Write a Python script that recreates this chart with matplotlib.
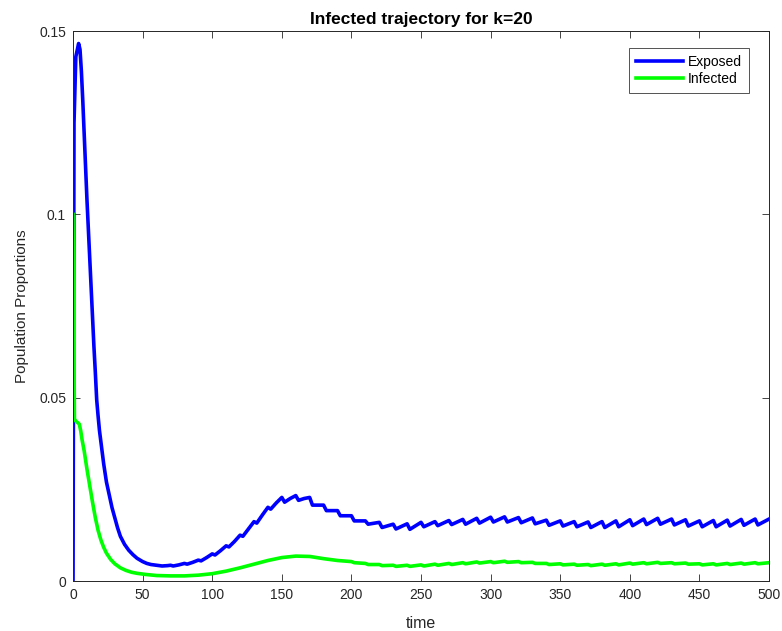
import matplotlib
matplotlib.use("Agg")
import matplotlib.pyplot as plt

# ---------- Config ----------
OUT_PNG = "out.png"
FONT = ["Liberation Sans Narrow", "Liberation Sans", "DejaVu Sans"]
BLUE = (0, 0, 1)
GREEN = (0, 1, 0)
# ----------------------------

TITLE = "Infected trajectory for k=20"
X_LABEL = "time"
Y_LABEL = "Population Proportions"
LEGEND_LABELS = ["Exposed", "Infected"]

X_TICKS = [0, 50, 100, 150, 200, 250, 300, 350, 400, 450, 500]
Y_TICKS = [0, 0.05, 0.1, 0.15]
Y_TICK_LABELS = ["0", "0.05", "0.1", "0.15"]

# exposed (blue), vertices
t_exposed = [0, 0.7, 2, 4, 5, 6, 7, 8, 9, 10, 11, 12, 13, 14, 15, 16, 17, 18, 19, 20,
             22, 24, 26, 28, 30, 32, 34, 37, 40, 43, 46, 50, 53, 56, 60, 64, 68, 70,
             72, 76, 80, 82, 86, 90, 92, 96, 100, 102, 106, 110, 112, 116, 120, 122,
             126, 130, 132, 136, 140, 142, 146, 150, 152, 156, 160, 162, 166, 170,
             172, 180, 182, 190, 192, 200, 202, 210, 212, 220, 222,
             230, 232, 240, 242, 250, 252, 260, 262, 270, 272, 280, 282, 290, 292,
             300, 302, 310, 312, 320, 322, 330, 332, 340, 342, 350, 352, 360, 362,
             370, 372, 380, 382, 390, 392, 400, 402, 410, 412, 420, 422, 430, 432,
             440, 442, 450, 452, 460, 462, 470, 472, 480, 482, 490, 492, 500]
exposed = [0, 0.125, 0.143, 0.1466, 0.145, 0.139, 0.131, 0.122, 0.113, 0.104, 0.096,
           0.088, 0.080, 0.072, 0.064, 0.057, 0.0494, 0.045, 0.041, 0.038,
           0.032, 0.027, 0.0235, 0.0200, 0.0172, 0.0145, 0.0122, 0.0100, 0.0084,
           0.0072, 0.0062, 0.0053, 0.0048, 0.0045, 0.0043, 0.0041, 0.0042, 0.0043,
           0.0041, 0.0044, 0.0048, 0.0046, 0.0051, 0.0057, 0.0055, 0.0064, 0.0074,
           0.0071, 0.0083, 0.0096, 0.0093, 0.0108, 0.0125, 0.0122,
           0.0142, 0.0162, 0.0158, 0.0180, 0.0201, 0.0196, 0.0213, 0.0228, 0.0215,
           0.0225, 0.0233, 0.0220, 0.0225, 0.0228,
           0.0207, 0.0207, 0.0192, 0.0192, 0.0178, 0.0178, 0.0164, 0.0164, 0.0155,
           0.0160, 0.0146,
           0.0155, 0.0142, 0.0156, 0.0141, 0.0160, 0.0148, 0.0162, 0.0151, 0.0165,
           0.0154, 0.0168, 0.0155, 0.0171, 0.0158,
           0.0174, 0.0161, 0.0175, 0.0161, 0.0173, 0.0159, 0.0172, 0.0156, 0.0166,
           0.0152, 0.0164, 0.0150, 0.0162, 0.0148,
           0.0161, 0.0146, 0.0162, 0.0146, 0.0164, 0.0148, 0.0167, 0.0151, 0.0169,
           0.0154, 0.0171, 0.0155, 0.0169, 0.0153,
           0.0167, 0.0150, 0.0164, 0.0148, 0.0165, 0.0148, 0.0166, 0.0150, 0.0168,
           0.0152, 0.0169, 0.0153, 0.0169]

# infected (green)
t_infected = [0, 1, 2, 3, 4.5, 5.5, 6.5, 8, 9, 10, 12, 14, 16, 18, 20, 22, 24, 27, 30,
              34, 38, 42, 46, 52, 60, 70, 80, 90, 100, 110, 120, 130, 140, 150, 160,
              170, 180, 190, 200, 202, 210, 212, 220, 222, 230, 232, 240, 242, 250,
              252, 260, 262, 270, 272, 280, 282, 290, 292, 300, 302, 310, 312, 320,
              322, 330, 332, 340, 342, 350, 352, 360, 362, 370, 372, 380, 382, 390,
              392, 400, 402, 410, 412, 420, 422, 430, 432, 440, 442, 450, 452, 460,
              462, 470, 472, 480, 482, 490, 492, 500]
infected = [0.1, 0.0442, 0.0436, 0.0433, 0.0428, 0.0410, 0.0385, 0.0355, 0.0330,
            0.0305, 0.0260, 0.0215, 0.0173, 0.0138, 0.0112, 0.0092, 0.0076, 0.0059,
            0.0047, 0.0036, 0.0029, 0.0024, 0.0021, 0.0018, 0.0015, 0.0014, 0.0014,
            0.0016, 0.0020, 0.0027, 0.0036, 0.0046, 0.0056, 0.0064, 0.0068, 0.0067,
            0.0061, 0.0056, 0.0053, 0.0050, 0.0048, 0.0045, 0.0045, 0.0042, 0.0043,
            0.0040, 0.0043, 0.0040, 0.0044, 0.0041, 0.0046, 0.0043, 0.0048, 0.0045,
            0.0050, 0.0047, 0.0052, 0.0049, 0.0053, 0.0050, 0.0054, 0.0051, 0.0053,
            0.0050, 0.0051, 0.0048, 0.0048, 0.0045, 0.0047, 0.0044, 0.0046, 0.0043,
            0.0045, 0.0042, 0.0046, 0.0043, 0.0047, 0.0044, 0.0049, 0.0046, 0.0050,
            0.0047, 0.0051, 0.0048, 0.0050, 0.0047, 0.0049, 0.0046, 0.0047, 0.0044,
            0.0047, 0.0044, 0.0048, 0.0045, 0.0049, 0.0046, 0.0050, 0.0047, 0.0050]


def main():
    plt.rcParams["font.family"] = FONT
    fig = plt.figure(figsize=(7.82, 6.31), dpi=100)
    ax = fig.add_axes([0.0934, 0.0792, 0.8900, 0.8716])

    ax.plot(t_exposed, exposed, color=BLUE, lw=2.6, label=LEGEND_LABELS[0])
    ax.plot(t_infected, infected, color=GREEN, lw=2.6, label=LEGEND_LABELS[1])

    ax.set_xlim(0, 500)
    ax.set_ylim(0, 0.15)
    ax.set_xticks(X_TICKS)
    ax.set_yticks(Y_TICKS)
    ax.set_yticklabels(Y_TICK_LABELS)
    ax.tick_params(direction="in", top=True, right=True, length=5, width=0.6,
                   labelsize=10, colors="#262626", pad=5)
    for s in ax.spines.values():
        s.set_linewidth(0.7)
        s.set_color("#262626")

    ax.set_title(TITLE, fontsize=12.5, fontweight="bold", pad=5)
    ax.set_xlabel(X_LABEL, fontsize=11.5, color="#262626", labelpad=10)
    ax.set_ylabel(Y_LABEL, fontsize=11, color="#262626", labelpad=7)

    # legend: upper-left corner where the reference box starts
    leg = ax.legend(loc="upper left", bbox_to_anchor=(0.7989, 0.969),
                    borderaxespad=0, fontsize=10, frameon=True, fancybox=False,
                    edgecolor="#262626", handlelength=3.4, handletextpad=0.36,
                    labelspacing=0.2, borderpad=0.5)
    leg.get_frame().set_linewidth(0.7)

    fig.savefig(OUT_PNG, dpi=100)
    plt.close(fig)


if __name__ == "__main__":
    main()
